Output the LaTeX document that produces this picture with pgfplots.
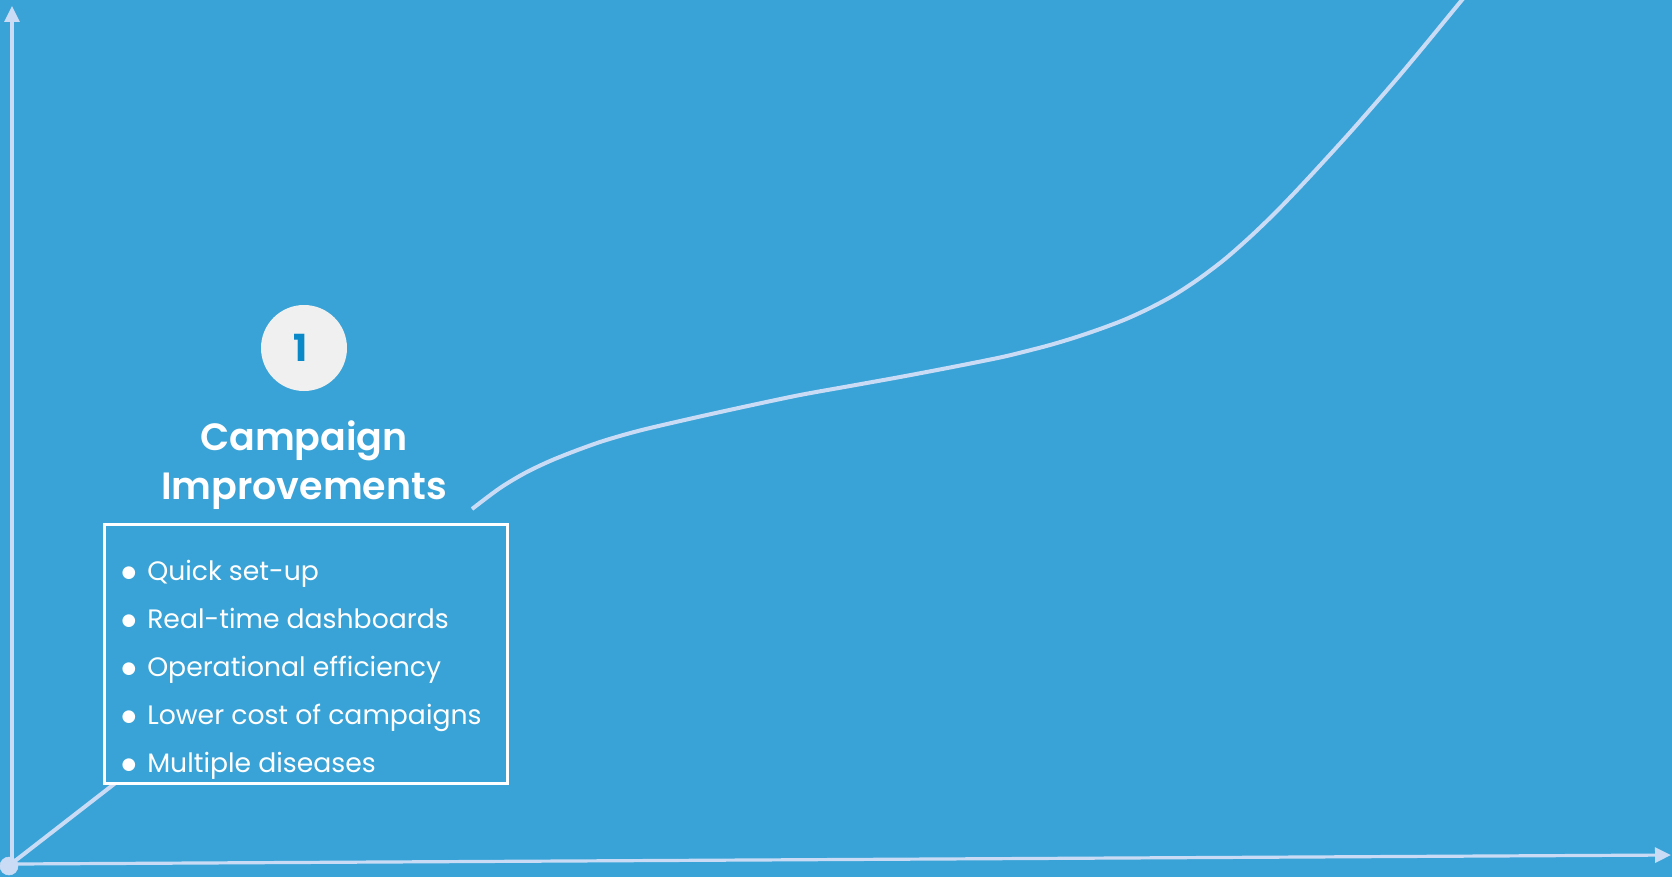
\documentclass[border=0pt]{standalone}
\usepackage{pgfplots}
\pgfplotsset{compat=1.18}
\usetikzlibrary{arrows.meta}
\usepackage{fontspec}
\setmainfont{Poppins}
\newfontfamily\semib{Poppins SemiBold}
\newfontfamily\dejavu{DejaVu Sans}
\definecolor{bgblue}{RGB}{57,163,215}
\definecolor{linec}{RGB}{202,220,245}
\definecolor{circfill}{RGB}{240,240,240}
\definecolor{numc}{RGB}{10,137,201}
\tikzset{itm/.style={text=white, anchor=base west, inner sep=0pt, font=\fontsize{20}{22}\selectfont},
  bul/.style={text=white, anchor=base, inner sep=0pt, font=\fontsize{12.5}{14}\selectfont\dejavu}}
\begin{document}
\begin{tikzpicture}
\begin{axis}[
  scale only axis, width=1254pt, height=657.75pt,
  xmin=0, xmax=1672, ymin=0, ymax=877, y dir=reverse,
  hide axis, clip=true]
\fill[bgblue] (axis cs:0,0) rectangle (axis cs:1672,877);
% axes arrows
\addplot[linec, line width=2.4pt, -{Triangle[length=12pt,width=11.25pt]}] coordinates {(12,866) (12,6)};
\addplot[linec, line width=2.4pt, -{Triangle[length=12pt,width=11.25pt]}] coordinates {(11,864) (1671,855)};
% growth curve
\addplot[linec, line width=3pt] coordinates {(11,864) (118,781)};
\addplot[linec, line width=3pt, smooth] coordinates {
(472,509) (500,488) (525,473) (550,461) (575,451) (600,442) (625,434.5) (650,428)
(700,416.5) (750,405.5) (800,395) (850,386) (900,377) (950,367.5) (1000,357.5)
(1025,351.5) (1050,345) (1075,337.5) (1100,329) (1125,319.5) (1150,308) (1175,294.5)
(1200,278) (1225,259) (1250,237) (1275,213) (1300,187) (1325,160) (1350,132.5)
(1375,104) (1400,75) (1425,45) (1450,14.5) (1480,-22)};
\addplot[linec, only marks, mark=*, mark size=6.75pt] coordinates {(9,866)};
% box
\draw[white, line width=2.25pt, fill=bgblue] (axis cs:104,524) rectangle (axis cs:507,783);
% circle
\fill[circfill] (axis cs:304,348) circle[radius=32.25pt];
\node[text=numc, font=\fontsize{28}{30}\selectfont\bfseries] at (axis cs:301,348) {1};
% title
\node[text=white, anchor=base, font=\fontsize{28.5}{30}\selectfont\semib] at (axis cs:304,450) {Campaign};
\node[text=white, anchor=base, font=\fontsize{28.5}{30}\selectfont\semib] at (axis cs:304,499) {Improvements};
% bullets
\node[itm] at (axis cs:147,580) {Quick set-up};
\node[itm] at (axis cs:147,628) {Real-time dashboards};
\node[itm] at (axis cs:147,676) {Operational efficiency};
\node[itm] at (axis cs:147,724) {Lower cost of campaigns};
\node[itm] at (axis cs:147,772) {Multiple diseases};
\node[bul] at (axis cs:129,577) {●};
\node[bul] at (axis cs:129,625) {●};
\node[bul] at (axis cs:129,673) {●};
\node[bul] at (axis cs:129,721) {●};
\node[bul] at (axis cs:129,769) {●};
\end{axis}
\pgfresetboundingbox
\useasboundingbox (current axis.south west) rectangle (current axis.north east);
\end{tikzpicture}
\end{document}
